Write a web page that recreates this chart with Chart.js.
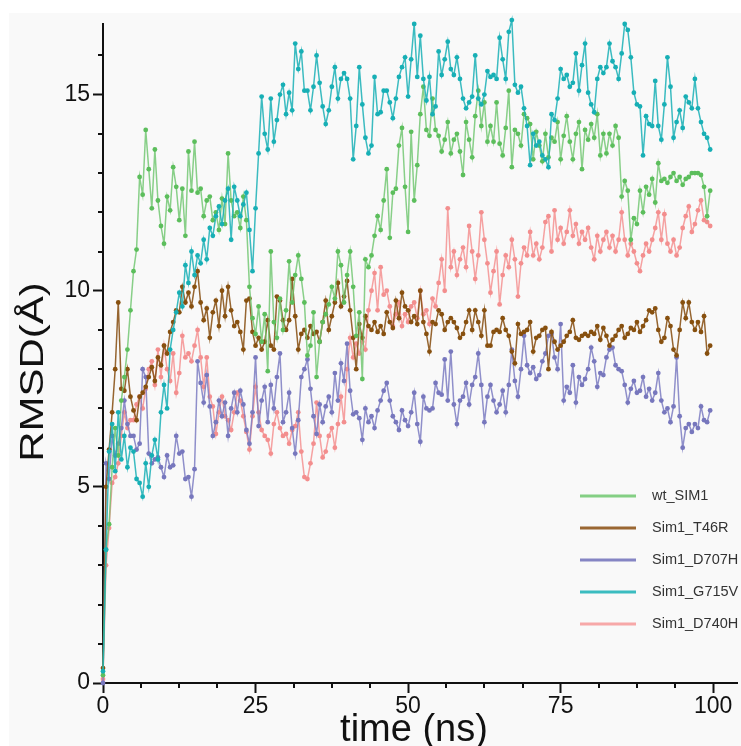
<!DOCTYPE html>
<html>
<head>
<meta charset="utf-8">
<script src="https://cdn.jsdelivr.net/npm/chart.js@4.4.1/dist/chart.umd.min.js"></script>
<style>
  html, body { margin: 0; padding: 0; background: #fff; }
  #wrap { width: 741px; height: 746px; }
</style>
</head>
<body>
<div id="wrap"><canvas id="rmsdChart" width="741" height="746"></canvas></div>
<script>
// sampling grid: one frame every 0.5 ns, 0 .. 99.5 ns
const timeNs = Array.from({ length: 200 }, (_, i) => i * 0.5);

const seriesNames = ['wt_SIM1', 'Sim1_T46R', 'Sim1_D707H', 'Sim1_G715V', 'Sim1_D740H'];

const wtSim1 = [
  0.2, 3.4, 4.05, 5.5, 6.5, 5.8, 7.2, 7.8, 8.5, 9.5,
  10.5, 11.05, 12.9, 12.45, 14.1, 13.1, 12.1, 13.6, 12.3, 11.65,
  11.2, 12.4, 12.05, 13.15, 12.65, 11.8, 12.6, 11.4, 13.55, 12.55,
  13.8, 12.5, 12.6, 11.9, 12.3, 12.4, 11.8, 12.0, 11.55, 12.35,
  11.7, 13.5, 12.3, 11.9, 12.0, 11.6, 12.4, 11.8, 10.1, 9.3,
  8.9, 9.6, 8.7, 9.4, 7.95, 11.0, 9.2, 8.8, 9.8, 9.0,
  9.5, 10.75, 9.7, 10.4, 10.9, 10.3, 9.7, 8.35, 8.6, 9.45,
  7.8, 8.7, 9.2, 9.4, 9.65, 10.1, 9.8, 11.0, 10.65, 9.7,
  10.4, 11.0, 10.1, 8.85, 9.45, 7.75, 10.8, 10.6, 10.9, 11.4,
  11.9, 11.55, 12.3, 13.1, 11.35, 12.5, 12.6, 13.7, 14.15, 12.65,
  11.5, 14.05, 12.3, 13.2, 14.5, 15.2, 14.1, 13.95, 14.9, 14.1,
  13.95, 13.55, 13.85, 14.3, 13.5, 13.85, 14.0, 13.55, 12.95, 14.3,
  13.85, 13.4, 14.45, 15.1, 14.2, 14.8, 13.8, 14.2, 13.8, 14.8,
  13.75, 13.45, 14.15, 15.1, 13.15, 14.1, 14.0, 13.7, 14.5, 14.4,
  14.25, 13.35, 14.05, 13.7, 13.3, 14.0, 13.4, 13.9, 13.8, 14.3,
  13.35, 13.95, 14.45, 13.8, 13.35, 14.0, 14.3, 13.1, 14.1, 13.85,
  14.25, 13.9, 14.5, 13.45, 14.0, 13.5, 14.0, 13.7, 14.2, 13.9,
  12.4, 12.8, 12.55, 11.3, 11.85, 11.7, 12.55, 12.0, 12.65, 12.45,
  12.85, 12.25, 13.25, 12.8, 12.85, 12.75, 12.9, 13.0, 12.8, 12.9,
  12.7, 12.85, 12.9, 13.0, 13.0, 13.0, 12.95, 12.65, 11.9, 12.55
];

const simT46R = [
  0.38, 5.0, 5.95, 6.9, 8.0, 9.7, 7.5, 7.45, 8.0, 7.3,
  6.95, 6.7, 7.3, 7.4, 7.55, 7.8, 8.05, 7.7, 8.3, 8.1,
  8.6, 8.4, 8.95, 9.2, 9.5, 9.45, 10.1, 9.7, 9.95, 9.6,
  10.1, 10.5, 9.7, 9.25, 9.55, 8.8, 9.45, 9.75, 9.1, 10.0,
  9.35, 10.1, 9.5, 9.1, 9.2, 8.95, 8.5, 9.75, 9.8, 8.95,
  8.6, 8.8, 8.5, 8.7, 9.25, 8.6, 8.5, 9.85, 9.75, 9.25,
  9.0, 9.25, 10.3, 9.35, 8.5, 8.9, 9.0, 8.8, 9.1, 8.9,
  8.95, 8.7, 9.2, 9.75, 9.0, 9.35, 9.7, 10.2, 9.6, 9.85,
  10.25, 9.5, 8.8, 8.0, 9.15, 8.8, 9.35, 9.1, 9.0, 9.2,
  8.95, 9.1, 8.9, 9.45, 9.2, 9.05, 9.75, 9.3, 9.95, 9.6,
  9.5, 9.2, 9.35, 9.15, 10.0, 9.2, 8.9, 8.45, 9.2, 9.15,
  9.5, 9.4, 9.0, 9.2, 9.3, 9.2, 9.05, 8.8, 8.9, 9.2,
  9.5, 9.0, 9.5, 9.2, 8.85, 9.5, 8.6, 8.6, 8.95, 9.0,
  8.95, 9.3, 9.0, 8.85, 8.45, 8.15, 9.15, 8.9, 8.95, 9.0,
  9.2, 8.45, 8.8, 8.85, 9.0, 9.05, 8.0, 8.95, 8.7, 8.5,
  8.6, 8.7, 8.85, 8.95, 9.25, 8.8, 8.75, 8.85, 8.9, 8.85,
  8.95, 8.9, 9.1, 8.75, 9.05, 8.85, 8.6, 8.75, 8.85, 9.0,
  9.1, 8.8, 8.9, 9.05, 9.0, 9.2, 8.95, 9.1, 9.25, 9.5,
  9.45, 9.55, 9.0, 8.7, 8.8, 9.3, 9.1, 8.5, 8.35, 9.0,
  9.7, 9.3, 9.7, 9.2, 9.0, 9.2, 8.95, 9.35, 8.4, 8.6
];

const simD707H = [
  0.0, 5.6, 5.2, 6.3, 5.8, 6.1, 6.5, 7.2, 6.6, 6.3,
  6.3, 5.95, 6.1, 8.0, 7.8, 5.85, 5.6, 5.7, 5.75, 5.5,
  5.25, 5.8, 5.5, 5.55, 6.3, 5.85, 5.9, 5.2, 5.25, 4.75,
  5.45, 8.2, 7.65, 7.15, 7.85, 7.05, 6.3, 6.65, 7.2, 6.8,
  7.15, 6.3, 7.0, 7.4, 6.9, 7.45, 7.1, 6.45, 6.1, 6.9,
  8.3, 6.55, 7.2, 7.55, 6.65, 7.6, 7.0, 7.8, 8.4, 6.65,
  6.9, 7.4, 6.5, 5.85, 6.7, 7.8, 8.0, 8.25, 7.5, 6.8,
  6.35, 7.1, 6.65, 7.05, 7.3, 6.9, 7.9, 7.2, 8.15, 7.7,
  8.65, 7.45, 6.85, 6.9, 6.75, 6.2, 7.0, 6.65, 6.8, 6.5,
  6.95, 7.2, 7.45, 7.65, 7.2, 6.8, 6.65, 6.45, 6.95, 6.7,
  6.55, 6.9, 7.4, 6.6, 6.15, 7.3, 7.0, 6.95, 7.0, 7.65,
  7.4, 7.35, 8.25, 7.2, 8.45, 7.1, 6.6, 7.2, 7.3, 7.65,
  7.1, 7.6, 7.8, 8.4, 7.6, 6.65, 7.3, 7.6, 7.2, 6.9,
  7.1, 7.45, 6.9, 7.6, 8.5, 7.7, 7.3, 8.0, 8.85, 8.1,
  7.9, 8.05, 7.75, 7.85, 8.2, 8.4, 8.85, 8.9, 8.3, 8.0,
  9.15, 7.2, 7.55, 7.4, 8.1, 7.15, 7.8, 7.6, 7.75, 8.0,
  8.55, 8.2, 7.55, 7.9, 7.85, 8.3, 8.5, 8.55, 8.1, 8.0,
  7.95, 7.6, 7.15, 7.5, 7.7, 7.4, 7.45, 7.8, 7.3, 7.5,
  7.2, 7.4, 7.9, 7.2, 6.9, 7.0, 6.65, 7.05, 8.3, 6.8,
  6.0, 6.5, 6.6, 6.4, 6.6, 6.5, 7.05, 6.7, 6.65, 6.95
];

const simG715V = [
  0.3, 3.4, 5.9, 6.6, 5.4, 6.9, 5.7, 6.3, 5.5, 6.0,
  5.9, 5.2, 5.1, 4.75, 5.6, 5.0, 5.8, 6.2, 5.7, 6.9,
  7.6, 7.0, 8.5, 9.0, 9.45, 9.95, 9.6, 10.65, 10.2, 11.0,
  10.4, 10.9, 10.7, 11.3, 10.8, 11.6, 11.4, 11.9, 12.15, 11.7,
  12.3, 12.6, 11.3, 12.65, 12.3, 11.9, 12.2, 12.5, 11.55, 10.5,
  12.1, 13.5, 14.95, 14.0, 13.6, 14.9, 13.8, 14.35, 15.0, 15.25,
  14.5, 15.05, 14.6, 16.3, 15.65, 16.1, 15.1, 15.1, 14.6, 15.2,
  16.0, 15.3, 14.7, 14.25, 14.6, 15.2, 15.7, 14.9, 15.4, 15.55,
  15.4, 14.9, 13.35, 14.2, 15.7, 14.75, 13.9, 13.5, 13.7, 15.45,
  14.5, 14.55, 15.1, 15.1, 14.8, 14.4, 14.9, 15.45, 15.7, 15.95,
  14.95, 15.9, 16.8, 15.45, 16.5, 15.4, 14.85, 15.45, 14.5, 14.7,
  16.1, 15.5, 15.9, 16.35, 15.65, 15.5, 15.95, 15.4, 14.9, 14.65,
  14.8, 14.95, 16.0, 14.9, 14.75, 15.0, 15.6, 15.45, 15.5, 15.4,
  16.45, 15.9, 15.4, 16.6, 16.9, 15.25, 15.05, 15.2, 14.65, 14.2,
  13.2, 14.0, 13.7, 13.8, 13.45, 13.35, 13.15, 14.5, 14.35, 14.9,
  15.65, 15.4, 15.5, 15.2, 15.3, 16.05, 15.1, 15.75, 16.3, 15.05,
  14.75, 14.55, 15.4, 15.7, 15.55, 15.7, 16.3, 15.85, 15.7, 15.4,
  16.05, 16.8, 16.65, 15.95, 15.05, 14.75, 14.7, 13.45, 14.45, 14.25,
  14.2, 15.35, 14.2, 13.85, 14.75, 15.95, 15.2, 13.9, 14.3, 14.6,
  14.15, 14.95, 14.8, 14.65, 15.4, 14.65, 14.3, 14.0, 13.9, 13.6
];

const simD740H = [
  0.1, 3.0, 3.95, 5.1, 5.25, 5.6, 6.3, 6.9, 6.5, 6.7,
  6.7, 7.1, 7.3, 7.0, 7.5, 8.0, 8.2, 7.6, 8.5, 7.8,
  8.6, 8.0, 7.7, 8.4, 7.4, 7.9, 8.85, 8.3, 8.4, 8.2,
  8.6, 9.0, 8.3, 7.55, 8.3, 7.3, 7.05, 6.35, 6.9, 7.3,
  6.8, 6.7, 6.45, 6.9, 7.4, 7.2, 6.8, 6.4, 5.95, 6.8,
  7.55, 6.9, 6.45, 6.3, 6.2, 5.85, 6.6, 6.9, 6.5, 6.3,
  6.35, 6.1, 6.45, 6.55, 6.9, 5.9, 5.25, 5.2, 5.6, 6.1,
  7.15, 6.3, 5.75, 5.9, 6.3, 6.5, 6.0, 6.6, 7.3, 6.65,
  8.0, 8.8, 8.3, 8.65, 8.4, 8.7, 8.5, 9.5, 10.0, 10.45,
  9.5, 10.6, 9.9, 10.0, 9.6, 9.1, 9.4, 9.7, 9.1, 9.4,
  9.2, 9.6, 9.7, 9.3, 10.0, 9.4, 9.5, 9.15, 9.8, 9.6,
  10.2, 10.8, 10.0, 12.1, 10.6, 11.0, 10.4, 10.8, 11.1, 10.6,
  11.65, 11.0, 10.3, 10.9, 12.0, 11.3, 10.7, 9.95, 10.5, 11.0,
  9.65, 10.4, 10.9, 10.6, 11.3, 10.8, 9.85, 10.7, 11.1, 10.9,
  11.5, 10.9, 11.2, 10.8, 11.1, 11.75, 11.9, 11.0, 12.05, 11.3,
  11.6, 11.2, 11.5, 12.05, 11.4, 11.7, 11.2, 11.5, 11.3, 11.6,
  11.1, 10.8, 11.4, 11.0, 11.3, 11.5, 11.1, 11.4, 11.0, 11.3,
  12.0, 11.3, 10.9, 11.2, 11.0, 10.7, 10.5, 10.9, 11.2, 11.0,
  11.3, 11.6, 12.0, 11.3, 11.95, 11.2, 11.0, 11.3, 10.9, 11.1,
  11.6, 11.9, 12.15, 11.5, 11.7, 12.05, 12.3, 11.8, 11.75, 11.65
];

const seriesValues = [wtSim1, simT46R, simD707H, simG715V, simD740H];
const lineColors = ['rgba(108,196,108,0.8)', 'rgba(139,84,26,0.9)', 'rgba(124,124,194,0.85)', 'rgba(26,176,182,0.85)', 'rgba(245,146,146,0.85)'];
const pointColors = ['#5cbe5c', '#87500f', '#7777bd', '#17afb5', '#f38e8e'];
const legendColors = ['#84cf84', '#9a6733', '#8585c4', '#3bbcc0', '#f7a8a8'];
// cyan drawn on top, pink at the bottom
const drawOrder = [1, 2, 3, 0, 4];

const fontFamily = '"Liberation Sans", Arial, Helvetica, sans-serif';

const datasets = seriesNames.map((name, i) => ({
  label: name,
  data: seriesValues[i],
  borderColor: lineColors[i],
  borderWidth: 1.5,
  pointRadius: 2.4,
  pointBorderWidth: 0,
  pointBackgroundColor: pointColors[i],
  tension: 0,
  clip: false,
  order: drawOrder[i]
}));

const isMajorY = (v) => Math.abs(v % 5) < 1e-6;
const isMajorX = (v) => Math.abs(v % 25) < 1e-6;

const decorations = {
  id: 'decorations',
  beforeDraw(chart) {
    const ctx = chart.ctx;
    ctx.save();
    ctx.fillStyle = '#f9f9f9';
    ctx.fillRect(9, 13, chart.width - 9, chart.height - 13);
    ctx.restore();
  },
  afterDraw(chart) {
    const ctx = chart.ctx;
    const xs = chart.scales.x;
    const ys = chart.scales.y;
    const area = chart.chartArea;
    ctx.save();

    // short minor ticks
    ctx.strokeStyle = '#111';
    ctx.lineWidth = 2;
    ctx.beginPath();
    ys.ticks.forEach((t) => {
      if (!isMajorY(t.value)) {
        const py = Math.round(ys.getPixelForValue(t.value));
        ctx.moveTo(area.left - 5, py);
        ctx.lineTo(area.left, py);
      }
    });
    xs.ticks.forEach((t) => {
      if (!isMajorX(t.value)) {
        const px = Math.round(xs.getPixelForValue(t.value));
        ctx.moveTo(px, area.bottom);
        ctx.lineTo(px, area.bottom + 5);
      }
    });
    ctx.stroke();

    // axis titles
    ctx.fillStyle = '#111';
    ctx.textAlign = 'center';
    ctx.textBaseline = 'alphabetic';
    ctx.font = '38px ' + fontFamily;
    ctx.fillText('time (ns)', 414, 741);

    ctx.save();
    ctx.translate(43, 372);
    ctx.rotate(-Math.PI / 2);
    ctx.scale(1, 0.78);
    ctx.font = '42px ' + fontFamily;
    ctx.fillText('RMSD(Å)', 0, 0);
    ctx.restore();

    // legend
    ctx.textAlign = 'left';
    ctx.textBaseline = 'middle';
    ctx.font = '14.5px ' + fontFamily;
    chart.data.datasets.forEach((ds, i) => {
      const ly = 496 + i * 32;
      ctx.strokeStyle = legendColors[i];
      ctx.lineWidth = 3;
      ctx.beginPath();
      ctx.moveTo(580, ly);
      ctx.lineTo(636, ly);
      ctx.stroke();
      ctx.fillStyle = '#333';
      ctx.fillText(ds.label, 652, ly);
    });

    ctx.restore();
  }
};

new Chart(document.getElementById('rmsdChart'), {
  type: 'line',
  data: { labels: timeNs, datasets: datasets },
  plugins: [decorations],
  options: {
    responsive: false,
    animation: false,
    layout: { padding: { top: 24, left: 0, right: 0, bottom: 0 } },
    plugins: { legend: { display: false }, tooltip: { enabled: false } },
    scales: {
      x: {
        type: 'linear',
        min: 0,
        max: 103.9,
        afterFit: (scale) => { scale.height = 63; },
        border: { display: true, color: '#111', width: 2 },
        grid: {
          drawOnChartArea: false,
          tickLength: 10,
          tickWidth: 2,
          tickColor: (c) => (c.tick && isMajorX(c.tick.value) ? '#111' : 'rgba(0,0,0,0)')
        },
        ticks: {
          stepSize: 6.25,
          includeBounds: false,
          autoSkip: false,
          maxRotation: 0,
          padding: 0,
          color: '#111',
          font: { family: fontFamily, size: 23 },
          callback: (v) => (isMajorX(v) ? v : '')
        }
      },
      y: {
        min: 0,
        max: 16.8,
        afterFit: (scale) => { scale.width = 103; },
        border: { display: true, color: '#111', width: 2 },
        grid: {
          drawOnChartArea: false,
          tickLength: 10,
          tickWidth: 2,
          tickColor: (c) => (c.tick && isMajorY(c.tick.value) ? '#111' : 'rgba(0,0,0,0)')
        },
        ticks: {
          stepSize: 1,
          includeBounds: false,
          autoSkip: false,
          padding: 3,
          color: '#111',
          font: { family: fontFamily, size: 23 },
          callback: (v) => (isMajorY(v) ? v : '')
        }
      }
    }
  }
});
</script>
</body>
</html>
